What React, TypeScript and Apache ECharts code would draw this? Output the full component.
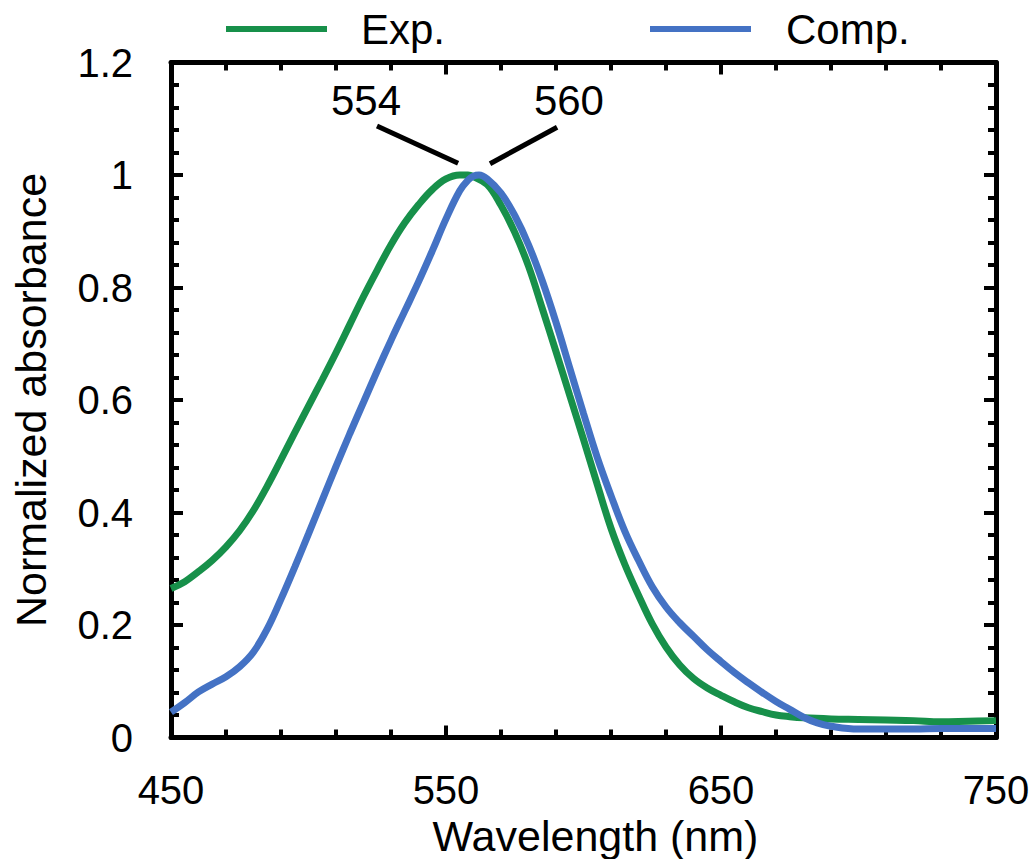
import React, { useEffect, useRef } from "react";
import * as echarts from "echarts";

const expWavelength = [450, 455, 460, 465, 470, 475, 480, 485, 490, 495, 500, 505, 510, 515, 520, 525, 530, 535, 540, 545, 550, 555, 558, 560, 565, 570, 575, 580, 585, 590, 595, 600, 605, 610, 615, 620, 625, 630, 635, 640, 645, 650, 655, 660, 665, 670, 675, 680, 690, 700, 710, 720, 730, 740, 750];
const expAbsorbance = [0.265, 0.277, 0.295, 0.315, 0.339, 0.368, 0.404, 0.447, 0.494, 0.542, 0.589, 0.636, 0.684, 0.734, 0.784, 0.831, 0.876, 0.915, 0.947, 0.974, 0.993, 1.0, 1.0, 0.997, 0.983, 0.946, 0.898, 0.838, 0.763, 0.686, 0.608, 0.53, 0.45, 0.372, 0.308, 0.253, 0.202, 0.161, 0.129, 0.105, 0.088, 0.075, 0.063, 0.053, 0.046, 0.04, 0.037, 0.035, 0.033, 0.032, 0.031, 0.03, 0.028, 0.029, 0.03];

const compWavelength = [450, 455, 460, 465, 470, 475, 480, 485, 490, 495, 500, 505, 510, 515, 520, 525, 530, 535, 540, 545, 550, 555, 558, 560, 562, 565, 570, 575, 580, 585, 590, 595, 600, 605, 610, 615, 620, 625, 630, 635, 640, 645, 650, 655, 660, 665, 670, 675, 680, 685, 690, 700, 710, 720, 730, 740, 750];
const compAbsorbance = [0.045, 0.062, 0.081, 0.095, 0.108, 0.126, 0.152, 0.193, 0.246, 0.303, 0.362, 0.422, 0.482, 0.54, 0.596, 0.652, 0.706, 0.758, 0.81, 0.865, 0.922, 0.972, 0.991, 0.998, 1.0, 0.993, 0.968, 0.928, 0.876, 0.812, 0.738, 0.657, 0.576, 0.498, 0.43, 0.367, 0.315, 0.268, 0.232, 0.204, 0.18, 0.156, 0.135, 0.115, 0.097, 0.08, 0.064, 0.05, 0.036, 0.026, 0.02, 0.015, 0.015, 0.015, 0.016, 0.016, 0.016];

const seriesNames = ["Exp.", "Comp."];
const peakLabels = ["554", "560"];
// annotation anchor points in data coordinates (wavelength, absorbance)
const peakLabelAt = [[520.9, 1.133], [594.7, 1.133]];
const peakLeaderFrom = [[524.9, 1.087], [566.0, 1.020]];
const peakLeaderTo = [[554.4, 1.021], [590.4, 1.085]];

const FONT = "'Liberation Sans', Arial, sans-serif";

export default function App() {
  const ref = useRef<HTMLDivElement>(null);
  useEffect(() => {
    if (!ref.current) return;
    const chart = echarts.init(ref.current, undefined, { renderer: "svg" });
    const axisLine = { show: true, onZero: false, lineStyle: { color: "#000", width: 5 } };
    const axisTick = { show: true, inside: true, length: 12, lineStyle: { color: "#000", width: 4 } };
    const minorTick = { show: true, splitNumber: 5, length: 8, lineStyle: { color: "#000", width: 4 } };
    const expData = expWavelength.map((w, i) => [w, expAbsorbance[i]]);
    const compData = compWavelength.map((w, i) => [w, compAbsorbance[i]]);
    chart.setOption({
      animation: false,
      textStyle: { fontFamily: FONT },
      grid: { left: 171, right: 39, top: 62.5, bottom: 121.5, containLabel: false, outerBoundsMode: "none" },
      legend: [
        {
          data: [seriesNames[0]],
          left: 221,
          top: 3,
          icon: "rect",
          itemWidth: 101,
          itemHeight: 6,
          textStyle: { fontSize: 42, color: "#000", fontFamily: FONT, padding: [0, 0, 0, 29] },
        },
        {
          data: [seriesNames[1]],
          left: 645,
          top: 3,
          icon: "rect",
          itemWidth: 101,
          itemHeight: 6,
          textStyle: { fontSize: 42, color: "#000", fontFamily: FONT, padding: [0, 0, 0, 30] },
        },
      ],
      xAxis: [
        {
          type: "value",
          min: 450,
          max: 750,
          interval: 100,
          name: "Wavelength (nm)",
          nameLocation: "middle",
          nameGap: 75,
          nameTextStyle: { fontSize: 43, color: "#000", fontFamily: FONT, padding: [0, 0, 0, 24] },
          axisLine,
          axisTick,
          minorTick,
          splitLine: { show: false },
          axisLabel: { fontSize: 40, color: "#000", margin: 32, fontFamily: FONT },
        },
        {
          type: "value",
          position: "top",
          min: 450,
          max: 750,
          interval: 100,
          axisLine,
          axisTick,
          minorTick,
          splitLine: { show: false },
          axisLabel: { show: false },
        },
      ],
      yAxis: [
        {
          type: "value",
          min: 0,
          max: 1.2,
          interval: 0.2,
          name: "Normalized absorbance",
          nameLocation: "middle",
          nameGap: 119,
          nameRotate: 90,
          nameTextStyle: { fontSize: 43, color: "#000", fontFamily: FONT },
          axisLine,
          axisTick,
          minorTick,
          splitLine: { show: false },
          axisLabel: { fontSize: 40, color: "#000", margin: 38, fontFamily: FONT },
        },
        {
          type: "value",
          position: "right",
          min: 0,
          max: 1.2,
          interval: 0.2,
          axisLine,
          axisTick,
          minorTick,
          splitLine: { show: false },
          axisLabel: { show: false },
        },
      ],
      series: [
        {
          name: seriesNames[0],
          type: "line",
          data: expData,
          showSymbol: false,
          smooth: 0.4,
          lineStyle: { color: "#17904a", width: 7 },
          itemStyle: { color: "#17904a" },
          z: 2,
        },
        {
          name: seriesNames[1],
          type: "line",
          data: compData,
          showSymbol: false,
          smooth: 0.4,
          lineStyle: { color: "#4472c4", width: 7 },
          itemStyle: { color: "#4472c4" },
          z: 3,
          markLine: {
            silent: true,
            symbol: ["none", "none"],
            label: { show: false },
            lineStyle: { color: "#000", width: 5, type: "solid" },
            data: peakLeaderFrom.map((p, i) => [{ coord: p }, { coord: peakLeaderTo[i] }]),
          },
          markPoint: {
            silent: true,
            symbol: "circle",
            symbolSize: 1,
            itemStyle: { color: "rgba(0,0,0,0)" },
            label: { show: true, position: "inside", fontSize: 42, color: "#000", fontFamily: FONT },
            data: peakLabels.map((t, i) => ({ coord: peakLabelAt[i], value: t, label: { formatter: t } })),
          },
        },
      ],
    });
    return () => chart.dispose();
  }, []);
  return (
    <div
      ref={ref}
      style={{ position: "fixed", left: 0, top: 0, width: 1035, height: 859, background: "#fff" }}
    />
  );
}
